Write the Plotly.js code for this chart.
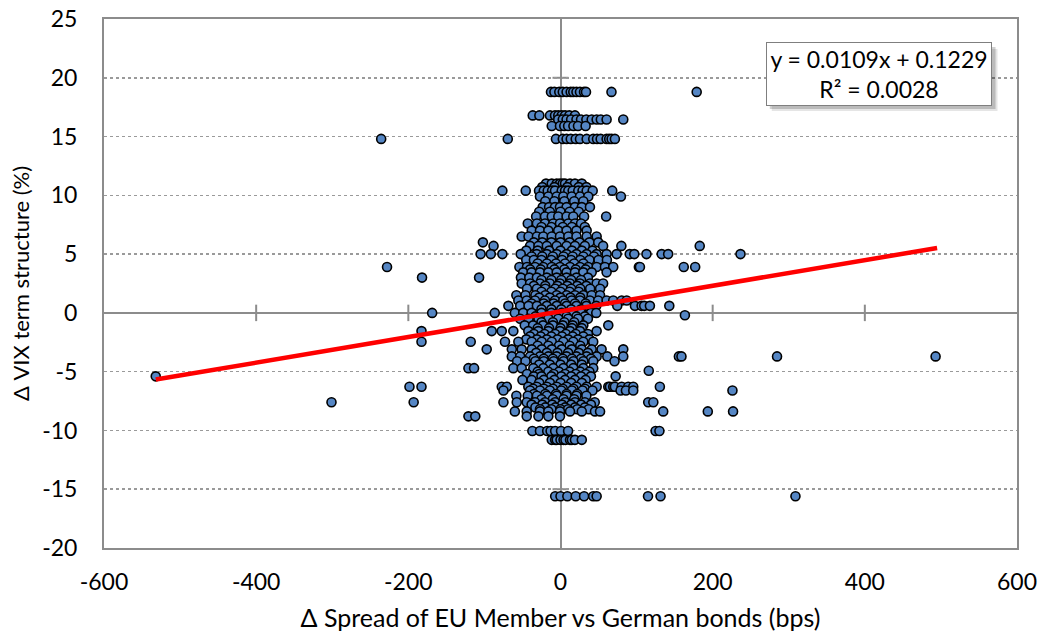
<!DOCTYPE html>
<html>
<head>
<meta charset="utf-8">
<script src="https://cdn.plot.ly/plotly-3.0.1.min.js"></script>
<style>html,body{margin:0;padding:0;background:#fff;}#chart{width:1042px;height:639px;}</style>
</head>
<body>
<div id="chart"></div>
<script>
// y level of each row of points, and the x values (bps) of the points on that row
const rowY = [18.8, 16.8, 16.45, 15.9, 14.8, 11.0, 10.7, 10.4, 9.9, 9.5, 9.0, 8.6, 8.2, 7.6, 7.3, 7.0, 6.5, 6.0, 5.7, 5.3, 5.0, 4.8, 4.5, 4.2, 3.9, 3.7, 3.45, 3.0, 2.8, 2.5, 2.3, 2.05, 1.8, 1.5, 1.3, 1.05, 0.8, 0.6, 0.3, 0.0, -0.2, -0.3, -0.5, -0.8, -1.06, -1.3, -1.55, -1.8, -2.0, -2.25, -2.45, -2.8, -3.1, -3.4, -3.7, -3.9, -4.12, -4.4, -4.7, -4.92, -5.0, -5.2, -5.4, -5.7, -5.95, -6.28, -6.45, -6.6, -6.9, -7.05, -7.35, -7.6, -7.8, -8.04, -8.2, -8.38, -8.8, -10.05, -10.8, -15.6];
const rowX = [
  [-12.5,-8,-1.6,3,8,13.4,16.8,21,25.6,30.9,33.5,67,179],
  [-36.5,-27.8,-13.8,-7.2,-2.9,1.6,6,11.6,19],
  [-3,3,8,14,21,27,34,41,47.5,53,60.6,82.5],
  [-11.5,-0.7,5,10,17,23,33],
  [-235.7,-69.3,-6,3,8,13.5,20,25.6,34.4,43,48,52.8,60.6,64,67.2,71.5],
  [-19,-11.5,-5,-0.7,3,6,12.5,19,28],
  [-24,-8,9,24,34],
  [-76.4,-45.7,-28.2,-22,-16.8,-11,-7.2,1.6,6,10.3,16,23.4,29,34.4,42.3,68],
  [-27,-16,-5,3.7,14.7,25.6,36.5,79.4],
  [-20,-8,5,18,30],
  [-23.4,-15,-7.2,-0.7,8,19,28,38.7],
  [-28,-14,0,12,24],
  [-32,-20.4,-11.5,-2.9,8,16.8,31,60],
  [-43,-31,-20.4,-9.5,-0.7,10.3,19,27],
  [-25,-12,3,15,32],
  [-37.8,-27,-16,-3,8,21,34.4],
  [-51,-42,-31,-22.6,-11.5,-0.7,10.3,21,34.4,47.5],
  [-102,-35,-24,-12,0,12,25,38,49.6],
  [-88,-40,-29,-18,-5,8,19,32,56,80,183],
  [-45,-30,-15,0,15,28,42],
  [-105,-91.6,-76.4,-52.3,-31.3,-18,-5,8,21,34.4,47.5,60.6,73.8,91,97,113,133,141.5,236.6],
  [-38,-24,-10,4,16,30,44],
  [-45,-35,-25,-12,2,14,26,38,50,61],
  [-30,-18,-6,6,18,30],
  [-228,-54,-44,-33.5,-22.6,-11.5,-0.7,12.5,25.6,36.5,47.5,58.4,69.3,103,104.4,162,177],
  [-40,-26,-8,5,20,33],
  [-49,-38,-27,-16,-5,8,19,30,41,60.6],
  [-182,-107,-52,-41,-31,-18,-5,8,21,36],
  [-25,-12,1,14,27],
  [-51,-40,-27,-14,-0.7,12.5,25.6,38.7,47.5,56],
  [-35,-20,-4,9,22,34],
  [-44,-31,-20,-7,3,14,26,39,52],
  [-25,-12,0,12,24],
  [-58,-46,-33,-20,-5,8,19,30,41,52],
  [-28,-14,0,13,26],
  [-55.4,-44.4,-33.5,-20.4,-7.2,3.7,14.7,25.6,38.7,49.6,60.6,69.3,80.4,87],
  [-38,-22,-9,6,19,33],
  [-68.5,-53,-42,-31,-18,-5,8,21,34,47,74.6,97.8,106.6,110,117.5,143],
  [-25,-12,1,14,27],
  [-168.7,-86.4,-60,-49,-38,-25,-12,1.6,14,27,40,47],
  [163.5],
  [-33,-18,-6,8,21,32],
  [-53,-42,-29,-16,-3,10,23,36],
  [-25,-10,5,18],
  [-47,-36,-23,-10,3,16,30,62.8],
  [-30,-15,0,15,28],
  [-182.7,-90.4,-77.2,-62,-42.3,-29.2,-16,-0.7,12.5,25.6,47.5],
  [-35,-21,-7,7,20,36],
  [-40,-26,-12,2,16,30],
  [-45,-31,-18,-4,10,23,38],
  [-182.7,-118,-73,-55.4,-37.8,-24.7,-11.5,3.7,16.8,30,43],
  [-30,-16,-2,12,26],
  [-97,-64,-51,-37.8,-24.7,-11.5,1.6,14.7,28,41,54,82.5],
  [-32,-18,-4,10,24,36],
  [-64,-53,-40,-27,-16,-5,8,21,34.4,47.5,61.5,82.5,155.6,159,284.6,493],
  [-35,-22,-10,3,15,27,40],
  [-57,-46,-33,-22,-9,4,17,30,43,71],
  [-28,-14,0,14,28],
  [-121,-113.6,-62,-51,-35.7,-22.6,-9.5,3.7,16.8,30,43],
  [116],
  [-30,-16,-2,12,26,38],
  [-44,-28,-9,6,20,33],
  [-532,-35,-25,-12,1,14,27,40,72.5],
  [-50,-38,-22,-8,6,19,33],
  [-28,-14,0,14,28],
  [-198.5,-182.7,-77.2,-70.6,-42.3,-31.3,-18,-5,8,21,34.4,47.5,62.8,65,69.3,71.5,80.4,89,95.6,130.6],
  [-36,-22,-10,3,17,32],
  [-75,-40,-27,-14,1,15,29,42,79,86,95.6,226],
  [-35,-20,-6,8,22],
  [-58,-43,-31,-18,-5,8,21,34],
  [-25,-10,4,18],
  [-301,-193,-75,-57.5,-44.4,-33.5,-20.4,-7.2,6,19,32,45,115.3,122],
  [-38,-24,-11,2,14,27,40],
  [-33,-20,-7,6,19,32],
  [-27,-12,0,10,22,37],
  [-60,-44.4,-27,-16,-0.7,12.5,28,45.3,52,135,193.6,226.8],
  [-121,-112,-44.4,-29,-16,-0.7],
  [-37,-27,-17.5,-13,-7,0.7,10,125,130],
  [-11.5,-7,-5,0,4,6.5,12.5,15,19,28],
  [-7,0,9,20,31,43,47.5,115,131.5,308.8]
];
// trend line end points (y = 0.0109x + 0.1229)
const trendX = [-532, 495];
const trendY = [-5.67, 5.52];
const xTicks = [-600, -400, -200, 0, 200, 400, 600];
const yTicks = [-20, -15, -10, -5, 0, 5, 10, 15, 20, 25];
const eqText = 'y = 0.0109x + 0.1229<br>R² = 0.0028';

const xs = [], ys = [];
rowY.forEach((yv, i) => rowX[i].forEach(xv => { xs.push(xv); ys.push(yv); }));

const FONT = 'Lato, "Open Sans", "DejaVu Sans", sans-serif';
const AXC = '#8c8c8c';

const shapes = [];
// cross tick marks on the x zero-line
xTicks.forEach(v => { if (v !== 0 && Math.abs(v) !== 600) shapes.push({type:'line', layer:'below', xref:'x', yref:'y', x0:v, x1:v, y0:-0.7, y1:0.7, line:{color:AXC, width:2}}); });
// cross tick marks on the y zero-line
yTicks.forEach(v => { if (v !== 0 && v !== 25 && v !== -20) shapes.push({type:'line', layer:'below', xref:'x', yref:'y', x0:-10.5, x1:10.5, y0:v, y1:v, line:{color:AXC, width:2}}); });

// equation box shadow (paper coordinates)
const L = 103.5, T = 19, W = 914, H = 529;
function px2paperX(p){ return (p - L) / W; }
function px2paperY(p){ return (T + H - p) / H; }
shapes.push({type:'rect', layer:'above', xref:'paper', yref:'paper', x0:px2paperX(772), x1:px2paperX(998), y0:px2paperY(111), y1:px2paperY(49), fillcolor:'rgba(0,0,0,0.10)', line:{width:0}});
shapes.push({type:'rect', layer:'above', xref:'paper', yref:'paper', x0:px2paperX(770), x1:px2paperX(996), y0:px2paperY(109), y1:px2paperY(47), fillcolor:'rgba(0,0,0,0.18)', line:{width:0}});

const data = [
  {type:'scatter', mode:'markers', x:xs, y:ys,
   marker:{size:9, color:'#5586C4', line:{color:'#000', width:1.6}}, hoverinfo:'x+y'},
  {type:'scatter', mode:'lines', x:trendX, y:trendY,
   line:{color:'#ff0000', width:4.5}, hoverinfo:'skip'}
];

const layout = {
  width:1042, height:639,
  margin:{l:103.5, r:24.5, t:19, b:91},
  paper_bgcolor:'#fff', plot_bgcolor:'#fff',
  showlegend:false,
  font:{family:FONT, size:22, color:'#000'},
  xaxis:{range:[-600,600], tickvals:xTicks, ticktext:xTicks.map(String), showgrid:false,
    zeroline:true, zerolinecolor:AXC, zerolinewidth:2,
    showline:true, mirror:true, linecolor:AXC, linewidth:2,
    ticks:'outside', ticklen:12, tickcolor:'rgba(0,0,0,0)',
    tickfont:{family:FONT, size:23, color:'#000'},
    title:{text:'Δ Spread of EU Member vs German bonds (bps)', font:{family:FONT, size:25, color:'#000'}, standoff:16}},
  yaxis:{range:[-20,25], tickvals:yTicks, ticktext:yTicks.map(String),
    showgrid:true, gridcolor:'#9a9a9a', gridwidth:1.5, griddash:'dot',
    zeroline:true, zerolinecolor:AXC, zerolinewidth:2,
    showline:true, mirror:true, linecolor:AXC, linewidth:2,
    ticks:'outside', ticklen:20, tickcolor:'rgba(0,0,0,0)',
    tickfont:{family:FONT, size:23, color:'#000'},
    title:{text:'Δ VIX term structure (%)', font:{family:FONT, size:22, color:'#000'}, standoff:6}},
  shapes:shapes,
  annotations:[{xref:'paper', yref:'paper', x:px2paperX(879.5), y:px2paperY(74), xanchor:'center', yanchor:'middle',
    text:eqText, showarrow:false, align:'center', font:{family:FONT, size:23, color:'#000'},
    bgcolor:'#fff', bordercolor:'#7f7f7f', borderwidth:1, borderpad:3, width:218, height:56}]
};

Plotly.newPlot('chart', data, layout, {displayModeBar:false, staticPlot:true});
</script>
</body>
</html>
